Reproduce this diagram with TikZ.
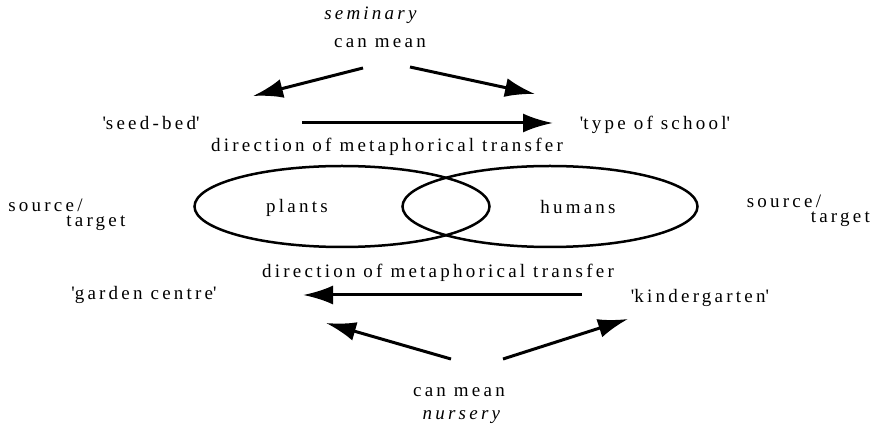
\documentclass[tikz,border=0pt]{standalone}
\usepackage{fontspec}
\setmainfont{Liberation Serif}[LetterSpace=17]
\usetikzlibrary{arrows.meta}
\newcommand{\sq}{\textquotesingle}

\begin{document}
\begin{tikzpicture}[x=1pt, y=-1pt, font=\fontsize{19}{22}\selectfont,
  >={Latex[length=30pt,width=19pt]}, line width=3pt,
  twoline/.style={anchor=west, align=left, font=\fontsize{19}{15}\selectfont}]
        \useasboundingbox (0,0) rectangle (876,427);

        \node (1) at (372,15) {\textit{seminary}};
        \node (2) at (380,43) {can mean};
        \node (3) at (151,123) {\sq seed-bed\sq};
        \node (4) at (655,125) {\sq type of school\sq};
        \node (5) at (387,147) {direction of metaphorical transfer};

        \draw[line width=2.5pt] (342,206.5) ellipse [x radius=147.5, y radius=40.5];
        \draw[line width=2.5pt] (550,206.5) ellipse [x radius=147.5, y radius=40.5];
        \node (6) at (297,208) {plants};
        \node (7) at (578,207) {humans};
        \node [twoline] (8) at (3.5,215) {source/\\\hspace{58pt}target};
        \node [twoline] (9) at (742,211) {source/\\\hspace{64pt}target};

        \node (10) at (438,273) {direction of metaphorical transfer};
        \node (11) at (144,295) {\sq garden centre\sq};
        \node (12) at (700,298) {\sq kindergarten\sq};
        \node (13) at (459,392) {can mean};
        \node (14) at (463,417) {\textit{nursery}};

        \coordinate (a) at (363,68);
        \coordinate (b) at (253,96);
        \coordinate (c) at (410,67);
        \coordinate (d) at (535,94);
        \coordinate (e) at (302,123);
        \coordinate (f) at (553,123);
        \coordinate (g) at (582,295);
        \coordinate (h) at (303,295);
        \coordinate (i) at (451,359);
        \coordinate (j) at (326,323);
        \coordinate (k) at (503,359);
        \coordinate (l) at (628,319);

        \draw[->] (a) -- (b);
        \draw[->] (c) -- (d);
        \draw[->] (e) -- (f);
        \draw[->] (g) -- (h);
        \draw[->] (i) -- (j);
        \draw[->] (k) -- (l);
      \end{tikzpicture}
\end{document}
